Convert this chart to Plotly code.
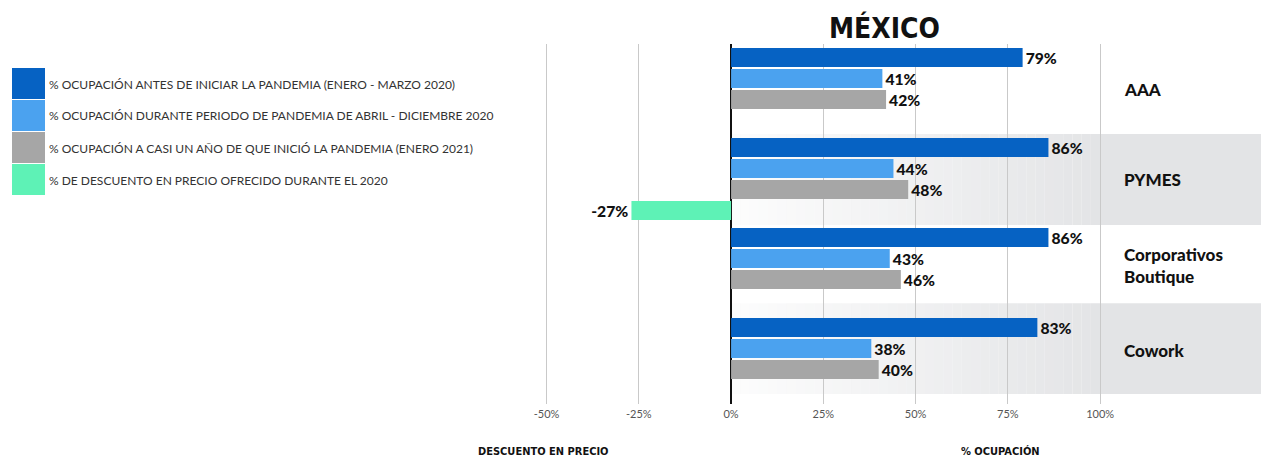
import plotly.graph_objects as go

# Categories (top to bottom) and series values in percent
categories = ["AAA", "PYMES", "Corporativos Boutique", "Cowork"]
category_labels = ["AAA", "PYMES", "Corporativos<br>Boutique", "Cowork"]

ocupacion_antes = [79, 86, 86, 83]
ocupacion_durante = [41, 44, 43, 38]
ocupacion_enero_2021 = [42, 48, 46, 40]
descuento_categorias = ["PYMES"]
descuento_precio = [-27]

series_names = [
    "% OCUPACIÓN ANTES DE INICIAR LA PANDEMIA (ENERO - MARZO 2020)",
    "% OCUPACIÓN DURANTE PERIODO DE PANDEMIA DE ABRIL - DICIEMBRE 2020",
    "% OCUPACIÓN A CASI UN AÑO DE QUE INICIÓ LA PANDEMIA (ENERO 2021)",
    "% DE DESCUENTO EN PRECIO OFRECIDO DURANTE EL 2020",
]
series_colors = ["#0662c3", "#4ba2ef", "#a6a6a6", "#5ef2b6"]

tick_vals = [-50, -25, 0, 25, 50, 75, 100]
tick_text = ["-50%", "-25%", "0%", "25%", "50%", "75%", "100%"]

W, H = 1261, 458
PLOT_L, PLOT_T, PLOT_B = 520, 44, 404
X_RANGE = [-57.2, 143.6]

LABEL_FONT = "Lato, 'Noto Sans', sans-serif"
COND_FONT = "'Liberation Sans Narrow', 'DejaVu Sans Condensed', 'Roboto Condensed', Roboto, sans-serif"


def px_x(px):
    return px / W


def px_y(py):
    return (PLOT_B - py) / (PLOT_B - PLOT_T)


fig = go.Figure()

value_series = [ocupacion_antes, ocupacion_durante, ocupacion_enero_2021]
for name, vals, color in zip(series_names[:3], value_series, series_colors[:3]):
    fig.add_trace(go.Bar(
        y=categories, x=vals, orientation="h", name=name,
        marker=dict(color=color, line=dict(width=0)),
        texttemplate="%{x:.0f}%", textposition="outside",
        textfont=dict(family=LABEL_FONT, size=19, color="#111111", weight=900),
        cliponaxis=False, showlegend=False,
    ))

fig.add_trace(go.Bar(
    y=descuento_categorias, x=descuento_precio, orientation="h", name=series_names[3],
    marker=dict(color=series_colors[3], line=dict(width=0)),
    texttemplate="%{x:.0f}%", textposition="outside",
    textfont=dict(family=LABEL_FONT, size=19, color="#111111", weight=900),
    cliponaxis=False, showlegend=False,
))

# Shaded bands behind PYMES and Cowork, fading in from the zero line
band_extents = [(0.5, 1.51), (2.38, 3.39)]
n_steps = 40
for y0, y1 in band_extents:
    for i in range(n_steps):
        xa = 100 * i / n_steps
        xb = 100 * (i + 1) / n_steps
        alpha = 0.08 + 0.92 * (i + 0.5) / n_steps
        fig.add_shape(type="rect", xref="x", yref="y", x0=xa, x1=xb, y0=y0, y1=y1,
                      fillcolor=f"rgba(227,228,230,{alpha:.3f})", line=dict(width=0),
                      layer="below")
    fig.add_shape(type="rect", xref="x", yref="y", x0=100, x1=X_RANGE[1], y0=y0, y1=y1,
                  fillcolor="rgb(227,228,230)", line=dict(width=0), layer="below")

# Category labels on the right
label_shift = [0, 0, 4, 9]
for cat, lab, sh in zip(categories, category_labels, label_shift):
    fig.add_annotation(x=105.8, y=cat, xref="x", yref="y", text=lab, showarrow=False,
                       xanchor="left", yanchor="middle", align="left", yshift=sh,
                       font=dict(family=LABEL_FONT, size=17, color="#111111", weight=900))

# Legend: stacked colour blocks with text
box_top = 68
box_h = 32
for i, (name, color) in enumerate(zip(series_names, series_colors)):
    t = box_top + i * box_h
    fig.add_shape(type="rect", xref="paper", yref="paper",
                  x0=px_x(12), x1=px_x(45), y0=px_y(t + box_h - 1), y1=px_y(t),
                  fillcolor=color, line=dict(width=0))
    fig.add_annotation(x=px_x(47), y=px_y(t + box_h / 2), xref="paper", yref="paper",
                       text=name, showarrow=False, xanchor="left", yanchor="middle",
                       font=dict(family=LABEL_FONT, size=12, color="#333333"))

# Title and axis captions
fig.add_annotation(x=px_x(885), y=px_y(28), xref="paper", yref="paper", text="MÉXICO",
                   showarrow=False, xanchor="center", yanchor="middle",
                   font=dict(family=COND_FONT, size=28, color="#111111", weight="bold"))
fig.add_annotation(x=px_x(543), y=px_y(451), xref="paper", yref="paper",
                   text="DESCUENTO EN PRECIO", showarrow=False, xanchor="center", yanchor="middle",
                   font=dict(family=COND_FONT, size=11, color="#111111", weight="bold"))
fig.add_annotation(x=px_x(1000), y=px_y(451), xref="paper", yref="paper",
                   text="% OCUPACIÓN", showarrow=False, xanchor="center", yanchor="middle",
                   font=dict(family=COND_FONT, size=11, color="#111111", weight="bold"))

fig.update_layout(
    width=W, height=H,
    margin=dict(l=0, r=0, t=PLOT_T, b=H - PLOT_B, pad=0),
    paper_bgcolor="white", plot_bgcolor="white",
    barmode="group", bargap=0.067, bargroupgap=0.095,
    showlegend=False,
    xaxis=dict(domain=[PLOT_L / W, 1], range=X_RANGE, tickvals=tick_vals, ticktext=tick_text,
               showgrid=True, gridcolor="#c9c9c9", gridwidth=1,
               zeroline=True, zerolinecolor="#111111", zerolinewidth=2,
               showline=False, ticks="", ticklabelstandoff=2,
               tickfont=dict(family=LABEL_FONT, size=11, color="#555555")),
    yaxis=dict(categoryorder="array", categoryarray=categories, range=[3.5, -0.5],
               showticklabels=False, showgrid=False, zeroline=False, showline=False, ticks=""),
)

fig.write_html("out.html")
